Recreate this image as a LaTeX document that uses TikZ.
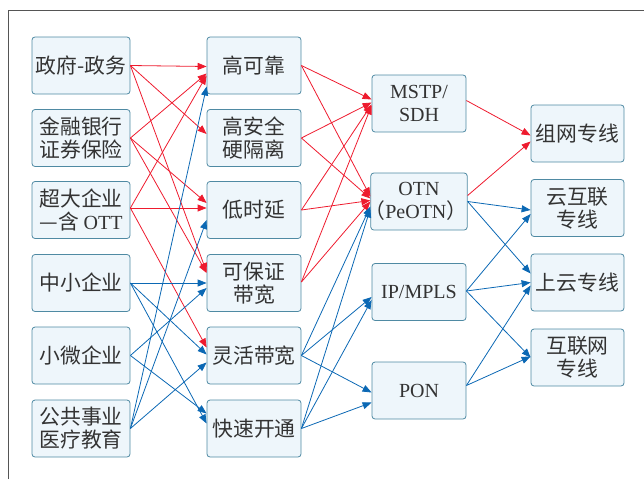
\documentclass[tikz,border=0pt]{standalone}
\usepackage{fontspec}
\setmainfont{Liberation Serif}
\newfontfamily\cjk[Scale=1.04]{Noto Sans CJK SC}
\usetikzlibrary{arrows.meta,calc}
\definecolor{boxfill}{HTML}{EEF6FB}
\definecolor{boxline}{HTML}{4F8AA3}
\definecolor{lred}{HTML}{EE1B2E}
\definecolor{lblue}{HTML}{0B68B4}
\definecolor{txt}{HTML}{333333}
\definecolor{framec}{HTML}{555555}
\tikzset{
  box/.style={draw=boxline, fill=boxfill, rounded corners=3pt, line width=0.8pt,
    text=txt, align=center, inner sep=0pt, minimum height=57pt,
    font=\fontsize{20}{23}\selectfont\cjk},
  colA/.style={box, minimum width=98pt},
  colB/.style={box, minimum width=94pt},
  colC/.style={box, minimum width=94pt},
  colD/.style={box, minimum width=93pt},
  rl/.style={draw=lred, line width=0.8pt, -{Triangle[length=9pt,width=7pt]}},
  bl/.style={draw=lblue, line width=0.8pt, -{Triangle[length=9pt,width=7pt]}},
}
\newcommand\lnk[5]{\draw[#1] ($(#2.east)+(0,#3)$) -- ($(#4.west)+(0,#5)$);}
\begin{document}
\begin{tikzpicture}[x=1pt,y=-1pt]
\useasboundingbox (0,0) rectangle (644,479);
\draw[framec, line width=1pt] (8,479) -- (8,10) -- (644,10);
% column 1
\node[colA] (c1) at (81,65.5) {政府-政务};
\node[colA] (c2) at (81,138) {金融银行\\证券保险};
\node[colA] (c3) at (81,210) {超大企业\\—含 {\rmfamily OTT}};
\node[colA] (c4) at (81,283) {中小企业};
\node[colA] (c5) at (81,355.5) {小微企业};
\node[colA] (c6) at (81,428.5) {公共事业\\医疗教育};
% column 2
\node[colB] (r1) at (254,65.5) {高可靠};
\node[colB] (r2) at (254,138) {高安全\\硬隔离};
\node[colB] (r3) at (254,210) {低时延};
\node[colB] (r4) at (254,283) {可保证\\带宽};
\node[colB] (r5) at (254,355.5) {灵活带宽};
\node[colB] (r6) at (254,428.5) {快速开通};
% column 3
\node[colC] (t1) at (419,103.5) {\rmfamily MSTP/\\\rmfamily SDH};
\node[colC] (t2) at (419,201.5) {{\rmfamily OTN}\\\hspace{-0.3em}（{\rmfamily PeOTN}）\hspace{-0.3em}};
\node[colC] (t3) at (419,292) {\rmfamily IP/MPLS};
\node[colC] (t4) at (419,390.5) {\rmfamily PON};
% column 4
\node[colD] (p1) at (577.5,133.5) {组网专线};
\node[colD] (p2) at (577.5,208) {云互联\\专线};
\node[colD] (p3) at (577.5,282.5) {上云专线};
\node[colD] (p4) at (577.5,357.5) {互联网\\专线};
% col1 -> col2 red
\lnk{rl}{c1}{0}{r1}{1}
\lnk{rl}{c1}{0}{r2}{-4}
\lnk{rl}{c1}{0}{r4}{-11}
\lnk{rl}{c2}{0}{r1}{8}
\lnk{rl}{c2}{0}{r3}{-7}
\lnk{rl}{c2}{0}{r4}{-10}
\lnk{rl}{c3}{-2}{r1}{10}
\lnk{rl}{c3}{-2}{r3}{-2}
\lnk{rl}{c3}{-2}{r5}{-8}
% col1 -> col2 blue
\lnk{bl}{c6}{0}{r1}{21}
\lnk{bl}{c6}{0}{r3}{10}
\lnk{bl}{c6}{0}{r5}{7}
\lnk{bl}{c4}{0}{r4}{0}
\lnk{bl}{c4}{0}{r5}{-1}
\lnk{bl}{c4}{0}{r6}{-5}
\lnk{bl}{c5}{0}{r4}{5}
\lnk{bl}{c5}{0}{r6}{-15}
% col2 -> col3 red
\lnk{rl}{r1}{0}{t1}{-4}
\lnk{rl}{r1}{0}{t2}{-5}
\lnk{rl}{r2}{0}{t1}{-1}
\lnk{rl}{r2}{0}{t2}{-3}
\lnk{rl}{r3}{0}{t1}{1}
\lnk{rl}{r3}{0}{t2}{-1}
\lnk{rl}{r4}{-1}{t1}{2}
\lnk{rl}{r4}{-1}{t2}{0}
% col2 -> col3 blue
\lnk{bl}{r5}{0}{t2}{5}
\lnk{bl}{r5}{0}{t3}{5}
\lnk{bl}{r5}{0}{t4}{2}
\lnk{bl}{r6}{0}{t2}{7}
\lnk{bl}{r6}{0}{t3}{8}
\lnk{bl}{r6}{0}{t4}{12}
% col3 -> col4
\lnk{rl}{t1}{-3}{p1}{2}
\lnk{rl}{t2}{-6}{p1}{8}
\lnk{bl}{t2}{0}{p2}{2}
\lnk{bl}{t2}{0}{p3}{-9}
\lnk{bl}{t3}{-1}{p2}{6}
\lnk{bl}{t3}{-1}{p3}{0}
\lnk{bl}{t3}{-1}{p4}{0}
\lnk{bl}{t4}{-5}{p3}{3}
\lnk{bl}{t4}{-5}{p4}{-1}
\end{tikzpicture}
\end{document}
